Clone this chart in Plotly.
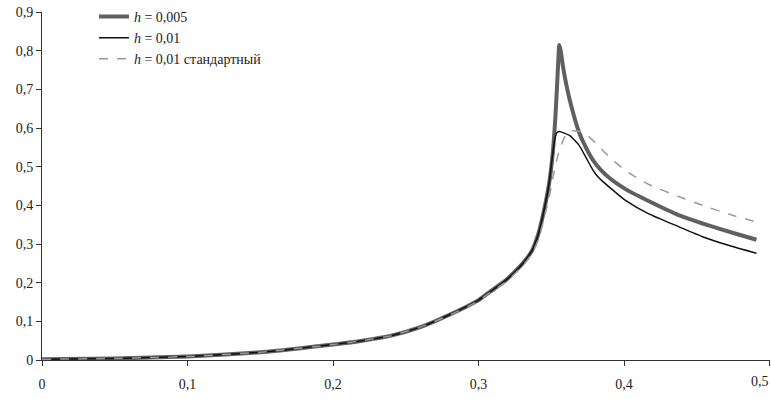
import plotly.graph_objects as go

# common rising part
x_rise = [0, 0.05, 0.1, 0.15, 0.2, 0.22, 0.24, 0.26, 0.28, 0.3, 0.308, 0.318, 0.328, 0.333,
          0.337, 0.341, 0.344]
y_rise = [0.002, 0.004, 0.009, 0.02, 0.04, 0.05, 0.063, 0.085, 0.117, 0.155, 0.177, 0.204, 0.24,
          0.262, 0.285, 0.325, 0.37]

# h = 0,005
x_h005 = x_rise + [0.3485, 0.351, 0.353, 0.3545, 0.3555, 0.3565, 0.358, 0.361, 0.3645,
                   0.369, 0.374, 0.3785, 0.384, 0.39, 0.401, 0.4175, 0.4375, 0.4575, 0.4775, 0.491]
y_h005 = y_rise + [0.457, 0.535, 0.64, 0.75, 0.815, 0.8, 0.76, 0.70, 0.646,
                   0.59, 0.548, 0.518, 0.492, 0.471, 0.442, 0.41, 0.375, 0.349, 0.326, 0.311]

# h = 0,01
x_h01 = x_rise + [0.3485, 0.351, 0.3525, 0.3538, 0.3555, 0.3625, 0.369, 0.3737, 0.3785, 0.382,
                  0.3853, 0.3928, 0.401, 0.417, 0.4375, 0.454, 0.4723, 0.491]
y_h01 = y_rise + [0.457, 0.535, 0.573, 0.588, 0.591, 0.581, 0.556, 0.525, 0.492, 0.474,
                  0.462, 0.438, 0.413, 0.378, 0.345, 0.319, 0.296, 0.276]

# h = 0,01 standard
x_std = [0, 0.05, 0.1, 0.15, 0.2, 0.22, 0.24, 0.26, 0.28, 0.3, 0.308, 0.318, 0.328, 0.333, 0.337,
         0.341, 0.344, 0.3485, 0.351, 0.3553, 0.36, 0.3645, 0.37, 0.3758, 0.3828, 0.39, 0.401,
         0.417, 0.4375, 0.454, 0.4723, 0.491]
y_std = [0.002, 0.004, 0.009, 0.02, 0.04, 0.05, 0.063, 0.085, 0.116, 0.153, 0.175, 0.2, 0.235,
         0.256, 0.277, 0.31, 0.35, 0.42, 0.47, 0.54, 0.583, 0.593, 0.591, 0.578, 0.552, 0.525,
         0.49, 0.454, 0.423, 0.40, 0.377, 0.357]

x_ticks = [0, 0.1, 0.2, 0.3, 0.4, 0.5]
x_tick_labels = ["0", "0,1", "0,2", "0,3", "0,4", "0,5"]
y_ticks = [0, 0.1, 0.2, 0.3, 0.4, 0.5, 0.6, 0.7, 0.8, 0.9]

FONT = "Liberation Serif, Times New Roman, Times, serif"

fig = go.Figure()
fig.add_trace(go.Scatter(x=x_h005, y=y_h005, mode="lines", name="<i>h</i> = 0,005",
                         line=dict(color="#606060", width=4, shape="spline", smoothing=0.5)))
fig.add_trace(go.Scatter(x=x_h01, y=y_h01, mode="lines", name="<i>h</i> = 0,01",
                         line=dict(color="#111111", width=1.5, shape="spline", smoothing=0.5)))
fig.add_trace(go.Scatter(x=x_std, y=y_std, mode="lines", name="<i>h</i> = 0,01 стандартный",
                         line=dict(color="#999999", width=1.5, dash="dash", shape="spline", smoothing=0.5)))

# the last tick label sits at the right edge, so it is right-aligned to its tick
fig.add_annotation(x=x_ticks[-1], xref="x", y=0, yref="paper", text=x_tick_labels[-1],
                   showarrow=False, xanchor="right", yanchor="top", xshift=1, yshift=-12,
                   font=dict(family=FONT, size=14, color="#222222"))

fig.update_layout(
    width=771, height=399,
    margin=dict(l=42, r=1, t=12, b=39, autoexpand=False),
    paper_bgcolor="white", plot_bgcolor="white",
    separators=", ",
    font=dict(family=FONT, size=14, color="#222222"),
    showlegend=True,
    legend=dict(x=0.0714, y=1.032, xanchor="left", yanchor="top", bgcolor="rgba(0,0,0,0)",
                font=dict(family=FONT, size=14), itemwidth=30, tracegroupgap=0),
    xaxis=dict(range=[0, 0.5003], tickvals=x_ticks, ticktext=x_tick_labels[:-1] + [""],
               showgrid=False, zeroline=False,
               showline=True, linecolor="#333333", linewidth=1,
               ticks="outside", ticklen=5, tickcolor="#333333", ticklabelstandoff=6),
    yaxis=dict(range=[0, 0.9003], tickvals=y_ticks, showgrid=False, zeroline=False,
               showline=True, linecolor="#333333", linewidth=1,
               ticks="outside", ticklen=5, tickcolor="#333333"),
)

fig.write_html("out.html", config={"displayModeBar": False},
               post_script="document.body.style.margin='0';")
